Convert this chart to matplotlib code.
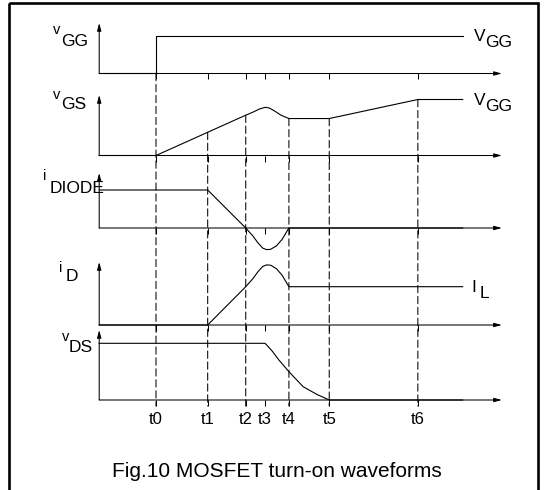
import matplotlib
matplotlib.use("Agg")
import matplotlib.pyplot as plt
import numpy as np
from matplotlib.patches import ConnectionPatch, Rectangle

plt.rcParams["font.family"] = ["Liberation Sans", "DejaVu Sans"]

# switching instants (arbitrary time units, 0 = axis origin)
t_names = ["t0", "t1", "t2", "t3", "t4", "t5", "t6"]
t_marks = [1.00, 1.91, 2.58, 2.92, 3.34, 4.05, 5.61]
t_end = 6.40
t_axis_end = 7.09

# waveforms (normalised amplitudes)
vgg_t = [0.0, 1.00, 1.00, 6.40]
vgg_v = [0.0, 0.0, 1.0, 1.0]

vgs_t = [0.0, 1.00, 2.58, 2.72, 2.82, 2.92, 2.99, 3.08, 3.20, 3.34, 4.05, 5.61, 6.40]
vgs_v = [0.0, 0.0, 0.72, 0.78, 0.83, 0.86, 0.85, 0.80, 0.72, 0.66, 0.66, 1.0, 1.0]

idiode_t = [0.0, 1.91, 2.58, 2.70, 2.80, 2.88, 2.95, 3.02, 3.12, 3.22, 3.34, 6.40]
idiode_v = [1.0, 1.0, 0.0, -0.20, -0.40, -0.53, -0.57, -0.56, -0.47, -0.30, 0.0, 0.0]

id_t = [0.0, 1.91, 2.58, 2.70, 2.80, 2.88, 2.95, 3.02, 3.12, 3.22, 3.34, 6.40]
id_v = [0.0, 0.0, 1.0, 1.20, 1.40, 1.53, 1.57, 1.56, 1.47, 1.30, 1.0, 1.0]

vds_t = [0.0, 2.92, 3.04, 3.16, 3.34, 3.59, 3.83, 4.05, 6.40]
vds_v = [1.0, 1.0, 0.87, 0.71, 0.50, 0.235, 0.10, 0.0, 0.0]

W, H = 546, 490
X0, XS = 99.2, 56.8          # axis origin (px) and px per time unit
# panel layout: baseline px, arrow top px, px per unit amplitude
layout = [(73.5, 23, 37.5), (155.5, 95, 56), (228, 173, 38), (325, 262, 38.3), (400, 330, 56.7)]
waves = [(vgg_t, vgg_v), (vgs_t, vgs_v), (idiode_t, idiode_v), (id_t, id_v), (vds_t, vds_v)]

fig = plt.figure(figsize=(W / 100, H / 100), dpi=100)

ov = fig.add_axes([0, 0, 1, 1])
ov.set_xlim(0, W)
ov.set_ylim(H, 0)
ov.axis("off")

arrow = dict(arrowstyle="-|>,head_length=0.45,head_width=0.12", lw=0.75, color="black",
             shrinkA=0, shrinkB=0)
axes = []
for (base, top, amp), (tt, vv) in zip(layout, waves):
    ax = fig.add_axes([0, (H - base) / H, 1, (base - top) / H])
    ytop = (base - top) / amp
    ax.set_xlim(-X0 / XS, (W - X0) / XS)
    ax.set_ylim(0, ytop)
    ax.patch.set_visible(False)
    for s in ax.spines.values():
        s.set_visible(False)
    ax.set_yticks([])
    ax.set_xticks(t_marks)
    ax.tick_params(axis="x", direction="out", length=4.5, width=0.75, labelbottom=False)
    ax.annotate("", xy=(t_axis_end, 0), xytext=(0, 0), arrowprops=arrow, annotation_clip=False)
    ax.annotate("", xy=(0, ytop), xytext=(0, 0), arrowprops=arrow, annotation_clip=False)
    ax.plot(tt, vv, color="black", lw=0.8, clip_on=False, solid_joinstyle="round")
    axes.append(ax)

axes[-1].tick_params(axis="x", labelbottom=True, labelsize=12, pad=4)
axes[-1].set_xticklabels(t_names)

# dashed markers
y_end = -6 / layout[-1][2]
dash = (0, (7, 3.5))
for name, t in zip(t_names, t_marks):
    if name == "t3":
        continue
    if name == "t0":
        start, src = (t, 0.0), axes[0]
    else:
        start, src = (t, float(np.interp(t, vgs_t, vgs_v))), axes[1]
    con = ConnectionPatch(xyA=start, coordsA=src.transData, xyB=(t, y_end),
                          coordsB=axes[-1].transData, color="black", lw=0.75, linestyle=dash)
    fig.add_artist(con)

# signal names (main letter + subscript)
labels = [
    ("v", 52.5, 34.5, 10.5), ("GG", 61.5, 45.5, 12.5),
    ("v", 52.5, 99, 10.5), ("GS", 61.5, 109, 12.5),
    ("i", 43, 180, 10.5), ("DIODE", 49.5, 193, 12.5),
    ("i", 59, 271.5, 10.5), ("D", 66, 280.5, 12.5),
    ("v", 62, 340.5, 10.5), ("DS", 69, 352, 12.5),
    ("V", 474, 41, 12.5), ("GG", 485, 47, 12.5),
    ("V", 474, 105, 12.5), ("GG", 485, 110.5, 12.5),
    ("I", 471, 292, 12.5), ("L", 480, 298, 12.5),
]
for s, x, y, size in labels:
    ov.text(x, y, s, fontsize=size, ha="left", va="baseline")

ov.text(277, 471, "Fig.10 MOSFET turn-on waveforms", fontsize=15, ha="center", va="center")
ov.add_patch(Rectangle((9, 3), 529, 500, fill=False, lw=1.9, ec="black", clip_on=False))

fig.savefig("out.png", dpi=100)
